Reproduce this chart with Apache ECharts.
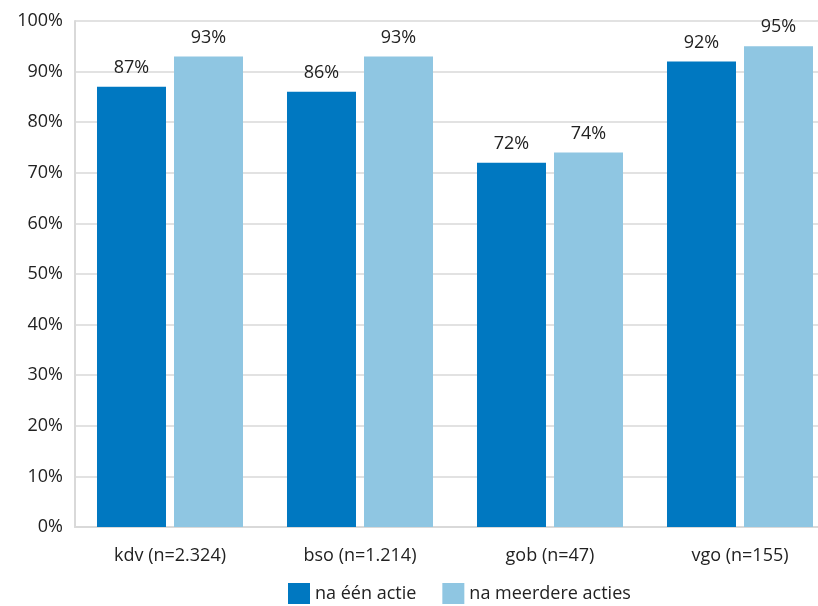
<!DOCTYPE html>
<html>
<head>
<meta charset="utf-8">
<script src="https://cdn.jsdelivr.net/npm/echarts@6/dist/echarts.min.js"></script>
<style>
html,body{margin:0;padding:0;background:#fff;}
#c{width:818px;height:606px;}
</style>
</head>
<body>
<div id="c"></div>
<script>
var categories = ['kdv (n=2.324)', 'bso (n=1.214)', 'gob (n=47)', 'vgo (n=155)'];
var seriesNames = ['na één actie', 'na meerdere acties'];
var eenActie = [87, 86, 72, 92];
var meerdereActies = [93, 93, 74, 95];

var chart = echarts.init(document.getElementById('c'));
var font = 'Open Sans';
var labelStyle = {show: true, position: 'top', formatter: '{c}%', color: '#222', fontSize: 18, fontFamily: font, distance: 10};
chart.setOption({
  animation: false,
  textStyle: {fontFamily: font},
  grid: {left: 75, width: 760, top: 21, bottom: 79, outerBoundsMode: 'none', containLabel: false},
  legend: {
    bottom: -3, left: 283, itemWidth: 22, itemHeight: 21, itemGap: 26,
    icon: 'rect',
    textStyle: {fontSize: 18, color: '#222', fontFamily: font},
    data: seriesNames
  },
  xAxis: {
    type: 'category', data: categories,
    axisLine: {lineStyle: {color: '#d9d9d9', width: 2}},
    axisTick: {show: false},
    axisLabel: {fontSize: 18, color: '#222', margin: 20, fontFamily: font}
  },
  yAxis: {
    type: 'value', min: 0, max: 100, interval: 10,
    axisLine: {show: true, lineStyle: {color: '#d9d9d9', width: 2}},
    axisTick: {show: false},
    splitLine: {lineStyle: {color: '#d9d9d9', width: 1.5}},
    axisLabel: {formatter: '{value}%', fontSize: 18, color: '#222', margin: 12, fontFamily: font}
  },
  series: [
    {name: seriesNames[0], type: 'bar', data: eenActie, barWidth: 69, barGap: '11.6%',
     itemStyle: {color: '#0078c1'}, label: labelStyle},
    {name: seriesNames[1], type: 'bar', data: meerdereActies, barWidth: 69,
     itemStyle: {color: '#8fc6e2'}, label: labelStyle}
  ]
});
</script>
</body>
</html>
